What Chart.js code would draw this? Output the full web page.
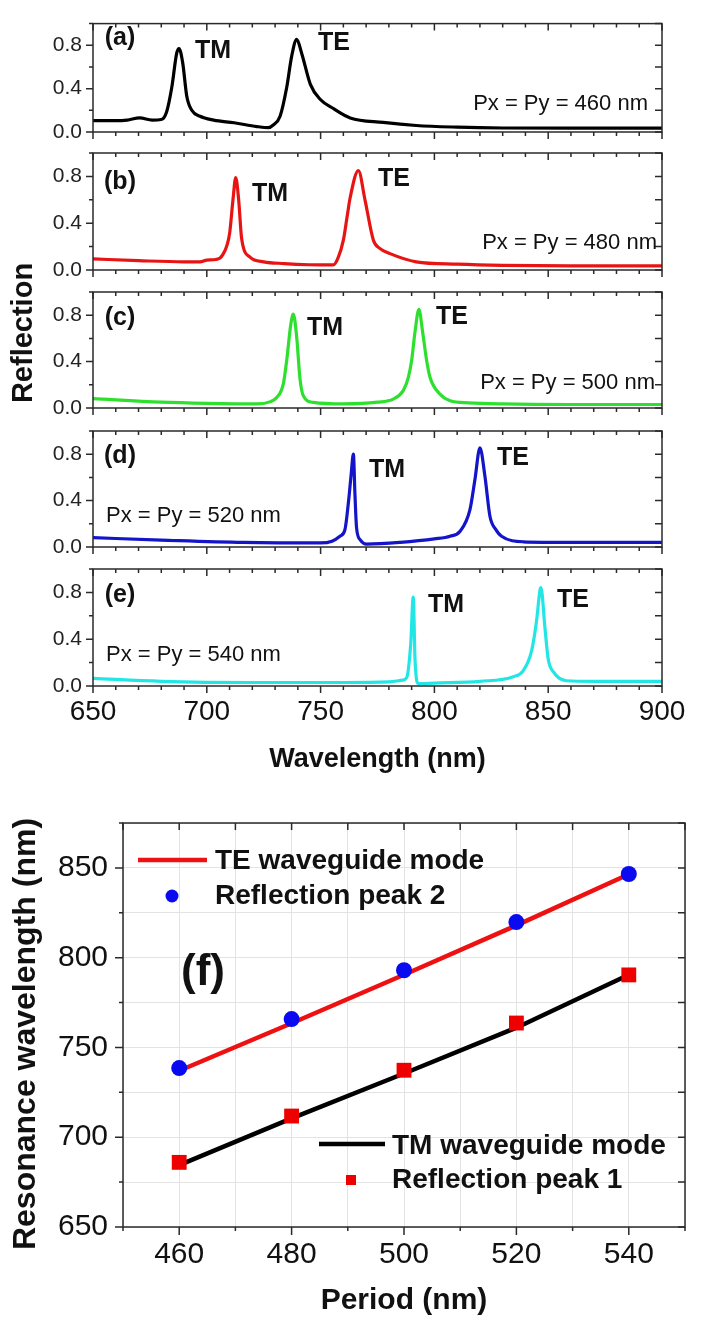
<!DOCTYPE html>
<html>
<head>
<meta charset="utf-8">
<script src="https://cdn.jsdelivr.net/npm/chart.js"></script>
<style>
  html, body { margin: 0; padding: 0; background: #fff; }
  #wrap { position: relative; width: 701px; height: 1334px; overflow: hidden; }
  canvas { position: absolute; left: 0; }
</style>
</head>
<body>
<div id="wrap">
  <canvas id="pa" width="701" height="790" style="top:0"></canvas>
  <canvas id="pb" width="701" height="790" style="top:0"></canvas>
  <canvas id="pc" width="701" height="790" style="top:0"></canvas>
  <canvas id="pd" width="701" height="790" style="top:0"></canvas>
  <canvas id="pe" width="701" height="790" style="top:0"></canvas>
  <canvas id="pf" width="701" height="544" style="top:790px"></canvas>
</div>
<script>
// reflection spectra, wavelength (nm) -> reflection
const wlA = [650, 660, 665, 670.5, 676, 680, 682.4, 684.6, 686.8, 687.8, 689.4, 691.2, 693.4, 697, 703, 712, 722, 727, 729.2, 732.2, 735.1, 737.3, 739.5, 741.7, 745.5, 749.9, 755.7, 763, 777.5, 792, 810, 830, 860, 900];
const rA = [0.105, 0.105, 0.11, 0.13, 0.11, 0.115, 0.19, 0.41, 0.73, 0.77, 0.64, 0.33, 0.20, 0.145, 0.11, 0.085, 0.05, 0.04, 0.065, 0.145, 0.41, 0.70, 0.855, 0.725, 0.44, 0.30, 0.215, 0.13, 0.088, 0.06, 0.045, 0.037, 0.035, 0.035];

const wlB = [650, 670, 690, 697, 700, 704, 707, 710, 711.5, 712.7, 714, 715.3, 719, 725, 734, 745, 755.6, 757.8, 760, 761.6, 763, 766.6, 769.5, 773.2, 776, 780.5, 792, 810, 830, 860, 900];
const rB = [0.095, 0.08, 0.07, 0.07, 0.085, 0.09, 0.13, 0.31, 0.6, 0.79, 0.6, 0.27, 0.11, 0.07, 0.055, 0.045, 0.043, 0.11, 0.255, 0.45, 0.62, 0.85, 0.6, 0.255, 0.185, 0.14, 0.07, 0.05, 0.04, 0.035, 0.035];

const wlC = [650, 680, 700, 722, 728, 730.7, 733.6, 735.1, 736.9, 738, 739.5, 740.9, 742.4, 746.8, 760, 775, 781.9, 786.3, 788.5, 790, 791.5, 793.2, 794.8, 796.5, 798, 802.4, 806.9, 815, 830, 860, 900];
const rC = [0.08, 0.05, 0.04, 0.035, 0.055, 0.09, 0.206, 0.41, 0.72, 0.81, 0.61, 0.26, 0.106, 0.048, 0.035, 0.05, 0.077, 0.15, 0.26, 0.41, 0.66, 0.85, 0.66, 0.42, 0.27, 0.12, 0.063, 0.045, 0.035, 0.03, 0.03];

const wlD = [650, 680, 716, 750, 755, 758.5, 760.7, 762.2, 763.4, 764.4, 765.1, 765.8, 767.5, 770.2, 785, 800, 806.9, 811.3, 815.6, 817.8, 820, 822.2, 824.4, 827, 829.5, 839, 860, 900];
const rD = [0.08, 0.06, 0.04, 0.035, 0.05, 0.093, 0.15, 0.38, 0.62, 0.80, 0.45, 0.165, 0.06, 0.025, 0.04, 0.07, 0.093, 0.136, 0.32, 0.58, 0.855, 0.61, 0.265, 0.15, 0.093, 0.045, 0.04, 0.04];

const wlE = [650, 680, 720, 760, 780, 786, 787.8, 789.6, 790.7, 791.5, 792.9, 800, 820, 834.7, 839, 842.7, 844.9, 846.4, 846.8, 848.6, 850, 852.3, 858, 870, 900];
const rE = [0.065, 0.04, 0.03, 0.03, 0.035, 0.05, 0.07, 0.36, 0.76, 0.22, 0.02, 0.025, 0.04, 0.08, 0.13, 0.30, 0.56, 0.82, 0.84, 0.49, 0.23, 0.12, 0.045, 0.04, 0.04];

const specXTicks = [650, 700, 750, 800, 850, 900];
const specYTicks = [0.0, 0.4, 0.8];

// panel (f): resonance wavelength vs period
const periods = [460, 480, 500, 520, 540];
const teMode = [737, 763.5, 790.5, 818, 846.5];
const peak2 = [738.5, 765.8, 793, 819.8, 846.6];
const tmMode = [684.5, 710.5, 735.5, 761, 790.5];
const peak1 = [686, 711.8, 737.3, 763.6, 790.4];
const periodTicks = [460, 480, 500, 520, 540];
const resTicks = [650, 700, 750, 800, 850];

const FONT = "'Liberation Sans', Arial, Helvetica, sans-serif";
Chart.defaults.font.family = FONT;
Chart.defaults.color = '#111';

const near = (arr, v) => arr.some(m => Math.abs(m - v) < 1e-6);

function framePlugin(c) {
  return {
    id: 'frame',
    afterDraw(chart) {
      const { ctx, chartArea: a } = chart;
      const x = chart.scales.x, y = chart.scales.y;
      ctx.save();
      ctx.strokeStyle = '#2a2a2a';
      ctx.lineWidth = 1.5;
      ctx.beginPath();
      for (let i = 0; ; i++) {
        const v = x.min + i * c.xStep;
        if (v > x.max + 1e-6) break;
        const px = x.getPixelForValue(v), big = near(c.xMajor, v);
        ctx.moveTo(px, a.bottom); ctx.lineTo(px, a.bottom + (big ? c.out : c.outMinor));
        ctx.moveTo(px, a.top); ctx.lineTo(px, a.top + (big ? c.inn : c.innMinor));
      }
      for (let i = 0; ; i++) {
        const v = y.min + i * c.yStep;
        if (v > y.max + 1e-6) break;
        const py = y.getPixelForValue(v), big = near(c.yMajor, v);
        ctx.moveTo(a.left, py); ctx.lineTo(a.left - (big ? c.out : c.outMinor), py);
        ctx.moveTo(a.right, py); ctx.lineTo(a.right - c.inn, py);
      }
      ctx.stroke();
      ctx.strokeRect(a.left, a.top, a.right - a.left, a.bottom - a.top);
      ctx.restore();
    }
  };
}

function notesPlugin(items) {
  return {
    id: 'notes',
    afterDraw(chart) {
      const ctx = chart.ctx;
      items.forEach(n => {
        ctx.save();
        ctx.font = n.font;
        ctx.fillStyle = '#111';
        ctx.textAlign = n.align || 'center';
        ctx.textBaseline = 'middle';
        ctx.translate(n.x, n.y);
        if (n.rot) ctx.rotate(n.rot);
        ctx.fillText(n.text, 0, 0);
        ctx.restore();
      });
    }
  };
}

const bold = s => `bold ${s}px ${FONT}`;
const plain = s => `${s}px ${FONT}`;
const specFrame = { xStep: 10, xMajor: specXTicks, yStep: 0.2, yMajor: specYTicks, out: 7, outMinor: 4, inn: 7, innMinor: 4 };

function spectrum(id, wl, refl, color, top, bottom, notes, last) {
  return new Chart(document.getElementById(id), {
    type: 'line',
    data: {
      datasets: [{
        data: wl.map((x, i) => ({ x, y: refl[i] })),
        borderColor: color,
        borderWidth: 3.2,
        pointRadius: 0,
        cubicInterpolationMode: 'monotone',
        fill: false
      }]
    },
    options: {
      responsive: false,
      animation: false,
      devicePixelRatio: 1,
      events: [],
      layout: { autoPadding: false, padding: { left: 0, right: 39, top: top, bottom: 0 } },
      plugins: { legend: { display: false }, tooltip: { enabled: false } },
      scales: {
        x: {
          type: 'linear', min: 650, max: 900,
          afterBuildTicks: s => { s.ticks = specXTicks.map(v => ({ value: v })); },
          afterFit: s => { s.height = 790 - bottom; },
          grid: { display: false, drawTicks: false },
          border: { display: false },
          ticks: { display: last, padding: 9, autoSkip: false, maxRotation: 0, font: { size: 28 }, color: '#111', callback: v => String(v) },
          title: { display: last, text: 'Wavelength (nm)', font: { size: 27, weight: 'bold' }, color: '#111', padding: { top: 0, bottom: 14 } }
        },
        y: {
          type: 'linear', min: 0, max: 1,
          afterBuildTicks: s => { s.ticks = specYTicks.map(v => ({ value: v })); },
          afterFit: s => { s.width = 93; },
          grid: { display: false, drawTicks: false },
          border: { display: false },
          ticks: { padding: 11, autoSkip: false, font: { size: 21 }, color: '#222', callback: v => v.toFixed(1) }
        }
      }
    },
    plugins: [framePlugin(specFrame), notesPlugin(notes)]
  });
}

spectrum('pa', wlA, rA, '#000000', 15, 132, [
  { text: '(a)', x: 120, y: 38, font: bold(25) },
  { text: 'TM', x: 213, y: 51, font: bold(25) },
  { text: 'TE', x: 334, y: 43, font: bold(25) },
  { text: 'Px = Py = 460 nm', x: 648, y: 104, font: plain(22), align: 'right' }
], false);

spectrum('pb', wlB, rB, '#e81414', 153, 270, [
  { text: '(b)', x: 120, y: 182, font: bold(25) },
  { text: 'TM', x: 270, y: 194, font: bold(25) },
  { text: 'TE', x: 394, y: 179, font: bold(25) },
  { text: 'Px = Py = 480 nm', x: 657, y: 243, font: plain(22), align: 'right' }
], false);

spectrum('pc', wlC, rC, '#2ee02e', 292, 408, [
  { text: '(c)', x: 120, y: 318, font: bold(25) },
  { text: 'TM', x: 325, y: 328, font: bold(25) },
  { text: 'TE', x: 452, y: 317, font: bold(25) },
  { text: 'Px = Py = 500 nm', x: 655, y: 383, font: plain(22), align: 'right' },
  { text: 'Reflection', x: 24, y: 333, font: bold(29), rot: -Math.PI / 2 }
], false);

spectrum('pd', wlD, rD, '#1414c8', 431, 547, [
  { text: '(d)', x: 120, y: 456, font: bold(25) },
  { text: 'TM', x: 387, y: 470, font: bold(25) },
  { text: 'TE', x: 513, y: 458, font: bold(25) },
  { text: 'Px = Py = 520 nm', x: 106, y: 516, font: plain(22), align: 'left' }
], false);

spectrum('pe', wlE, rE, '#22e6e6', 569, 686, [
  { text: '(e)', x: 120, y: 595, font: bold(25) },
  { text: 'TM', x: 446, y: 605, font: bold(25) },
  { text: 'TE', x: 573, y: 600, font: bold(25) },
  { text: 'Px = Py = 540 nm', x: 106, y: 655, font: plain(22), align: 'left' }
], true);

// legend drawn inside the plot like the original (two separate blocks)
const legendPlugin = {
  id: 'legendBlocks',
  afterDraw(chart) {
    const ctx = chart.ctx;
    ctx.save();
    ctx.lineWidth = 4.5;
    ctx.strokeStyle = '#ee1111';
    ctx.beginPath(); ctx.moveTo(138, 70); ctx.lineTo(207, 70); ctx.stroke();
    ctx.fillStyle = '#0a0af0';
    ctx.beginPath(); ctx.arc(172, 106, 6.5, 0, Math.PI * 2); ctx.fill();
    ctx.strokeStyle = '#000';
    ctx.beginPath(); ctx.moveTo(319, 354); ctx.lineTo(385, 354); ctx.stroke();
    ctx.fillStyle = '#ee0000';
    ctx.fillRect(346, 385, 10, 10);
    ctx.restore();
  }
};

new Chart(document.getElementById('pf'), {
  type: 'line',
  data: {
    datasets: [
      { data: periods.map((x, i) => ({ x, y: peak2[i] })), showLine: false, pointStyle: 'circle', pointRadius: 8, pointBackgroundColor: '#0a0af0', pointBorderWidth: 0, order: 0 },
      { data: periods.map((x, i) => ({ x, y: peak1[i] })), showLine: false, pointStyle: 'rect', pointRadius: 10.5, pointBackgroundColor: '#ee0000', pointBorderWidth: 0, order: 0 },
      { data: periods.map((x, i) => ({ x, y: teMode[i] })), borderColor: '#ee1111', borderWidth: 4.5, pointRadius: 0, tension: 0, order: 1 },
      { data: periods.map((x, i) => ({ x, y: tmMode[i] })), borderColor: '#000000', borderWidth: 4.5, pointRadius: 0, tension: 0, order: 1 }
    ]
  },
  options: {
    responsive: false,
    animation: false,
    devicePixelRatio: 1,
    events: [],
    layout: { autoPadding: false, padding: { left: 0, right: 16, top: 16, bottom: 0 } },
    plugins: { legend: { display: false }, tooltip: { enabled: false } },
    scales: {
      x: {
        type: 'linear', min: 450, max: 550,
        afterBuildTicks: s => { const t = []; for (let v = 450; v <= 550; v += 10) t.push({ value: v }); s.ticks = t; },
        afterFit: s => { s.height = 107; },
        grid: { color: '#e3e3e3', lineWidth: 1, drawTicks: false },
        border: { display: false },
        ticks: { padding: 10, autoSkip: false, maxRotation: 0, font: { size: 30 }, color: '#111', callback: v => periodTicks.includes(v) ? String(v) : '' },
        title: { display: true, text: 'Period (nm)', font: { size: 30, weight: 'bold' }, color: '#111', padding: { top: 0, bottom: 15 } }
      },
      y: {
        type: 'linear', min: 650, max: 875,
        afterBuildTicks: s => { const t = []; for (let v = 650; v <= 875; v += 25) t.push({ value: v }); s.ticks = t; },
        afterFit: s => { s.width = 123; },
        grid: { color: '#e3e3e3', lineWidth: 1, drawTicks: false },
        border: { display: false },
        ticks: { padding: 15, autoSkip: false, font: { size: 30 }, color: '#111', callback: v => resTicks.includes(v) ? String(v) : '' }
      }
    }
  },
  plugins: [
    framePlugin({ xStep: 10, xMajor: periodTicks, yStep: 25, yMajor: resTicks, out: 8, outMinor: 4, inn: 7, innMinor: 7 }),
    legendPlugin,
    notesPlugin([
      { text: 'TE waveguide mode', x: 215, y: 71, font: bold(28), align: 'left' },
      { text: 'Reflection peak 2', x: 215, y: 106, font: bold(28), align: 'left' },
      { text: 'TM waveguide mode', x: 392, y: 356, font: bold(28), align: 'left' },
      { text: 'Reflection peak 1', x: 392, y: 390, font: bold(28), align: 'left' },
      { text: '(f)', x: 203, y: 183, font: bold(44) },
      { text: 'Resonance wavelength (nm)', x: 26, y: 244, font: bold(32), rot: -Math.PI / 2 }
    ])
  ]
});
</script>
</body>
</html>
